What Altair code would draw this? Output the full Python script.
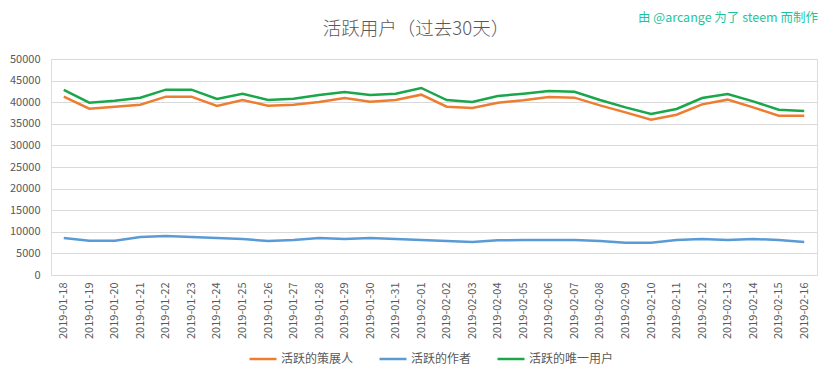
import altair as alt
import pandas as pd

dates = ["2019-01-18", "2019-01-19", "2019-01-20", "2019-01-21", "2019-01-22",
         "2019-01-23", "2019-01-24", "2019-01-25", "2019-01-26", "2019-01-27",
         "2019-01-28", "2019-01-29", "2019-01-30", "2019-01-31", "2019-02-01",
         "2019-02-02", "2019-02-03", "2019-02-04", "2019-02-05", "2019-02-06",
         "2019-02-07", "2019-02-08", "2019-02-09", "2019-02-10", "2019-02-11",
         "2019-02-12", "2019-02-13", "2019-02-14", "2019-02-15", "2019-02-16"]

curators = [41280, 38500, 38960, 39430, 41280, 41280, 39120, 40500, 39200, 39430,
            40050, 40970, 40120, 40500, 41740, 38960, 38660, 39890, 40430, 41200,
            41050, 39270, 37650, 35960, 37110, 39500, 40590, 38800, 36880, 36880]

authors = [8560, 7950, 7950, 8800, 9030, 8800, 8560, 8330, 7870, 8100,
           8560, 8330, 8560, 8330, 8100, 7870, 7640, 8030, 8100, 8100,
           8100, 7870, 7480, 7480, 8100, 8330, 8100, 8330, 8100, 7640]

unique_users = [42850, 39900, 40350, 41050, 42900, 42900, 40740, 41970, 40500, 40800,
                41670, 42360, 41670, 41970, 43290, 40500, 40050, 41440, 41970, 42600,
                42400, 40500, 38800, 37270, 38430, 40970, 41900, 40200, 38270, 37960]

series_names = ["活跃的策展人", "活跃的作者", "活跃的唯一用户"]
series_colors = ["#ED7D31", "#5B9BD5", "#1AA64A"]

title_text = "活跃用户（过去30天）"
credit_text = "由 @arcange 为了 steem 而制作"

rows = []
for name, vals in zip(series_names, [curators, authors, unique_users]):
    for d, v in zip(dates, vals):
        rows.append({"date": d, "series": name, "value": v})
df = pd.DataFrame(rows)

FONT = "Noto Sans CJK SC"

lines = alt.Chart(df).mark_line(strokeWidth=2.5).encode(
    x=alt.X("date:N", sort=dates, title=None,
            scale=alt.Scale(padding=0.5),
            axis=alt.Axis(labelAngle=-90, labelFontSize=11, labelColor="#595959",
                          labelFont=FONT, labelPadding=7, ticks=False,
                          domainColor="#D9D9D9", grid=False)),
    y=alt.Y("value:Q", title=None,
            scale=alt.Scale(domain=[0, 50000], nice=False),
            axis=alt.Axis(values=list(range(0, 50001, 5000)), labelFontSize=11,
                          labelColor="#595959", labelFont=FONT, labelPadding=11,
                          ticks=False, domain=False, gridColor="#D9D9D9",
                          format="d")),
    color=alt.Color("series:N",
                    scale=alt.Scale(domain=series_names, range=series_colors),
                    sort=series_names,
                    legend=alt.Legend(title=None, orient="none", direction="horizontal",
                                      legendX=197, legendY=285,
                                      symbolType="stroke", symbolSize=729,
                                      symbolStrokeWidth=2.5, labelOffset=3,
                                      columnPadding=20, labelFontSize=12,
                                      labelFont=FONT, labelColor="#595959",
                                      padding=0)),
)

credit = alt.Chart(pd.DataFrame({"t": [credit_text]})).mark_text(
    align="right", baseline="middle", fontSize=12.5, font=FONT, color="#1EC4A0"
).encode(x=alt.value(767), y=alt.value(-41), text="t:N")

title = alt.Chart(pd.DataFrame({"t": [title_text]})).mark_text(
    align="center", baseline="middle", fontSize=18.5, font=FONT, color="#595959",
    fontWeight=300
).encode(x=alt.value(365), y=alt.value(-30), text="t:N")

chart = alt.layer(lines, credit, title).properties(
    width=766, height=216,
    padding={"left": 43, "top": 51, "right": 8, "bottom": 96},
    autosize=alt.AutoSizeParams(type="none"),
).configure_view(stroke=None).configure(background="white")

chart.save("out.html", embed_options={"renderer": "svg", "actions": False})
